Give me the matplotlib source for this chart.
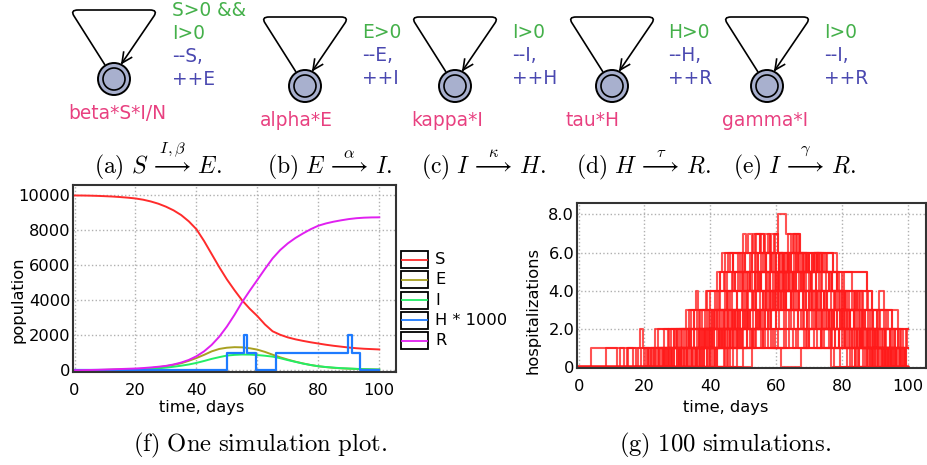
import numpy as np
import matplotlib
matplotlib.use("Agg")
import matplotlib.pyplot as plt
from matplotlib.path import Path
from matplotlib.patches import PathPatch, Circle, Rectangle

plt.rcParams['mathtext.fontset'] = 'cm'
plt.rcParams['font.family'] = 'DejaVu Sans'

# ---- automata labels (top row)
guards = [["S>0 &&", "I>0"], ["E>0"], ["I>0"], ["H>0"], ["I>0"]]
updates = [["--S,", "++E"], ["--E,", "++I"], ["--I,", "++H"], ["--H,", "++R"], ["--I,", "++R"]]
rates = ["beta*S*I/N", "alpha*E", "kappa*I", "tau*H", "gamma*I"]
captions = [r"$\mathrm{(a)}\ S\,\overset{I,\beta}{\longrightarrow}\,E.$",
            r"$\mathrm{(b)}\ E\,\overset{\alpha}{\longrightarrow}\,I.$",
            r"$\mathrm{(c)}\ I\,\overset{\kappa}{\longrightarrow}\,H.$",
            r"$\mathrm{(d)}\ H\,\overset{\tau}{\longrightarrow}\,R.$",
            r"$\mathrm{(e)}\ I\,\overset{\gamma}{\longrightarrow}\,R.$"]

# ---- one simulation
days = [0, 2.5, 5, 7.5, 10, 12.5, 15, 17.5, 20, 22.5, 25, 27.5, 30, 32.5, 35, 37.5, 40, 42.5, 45, 47.5, 50,
        52.5, 55, 57.5, 60, 62.5, 65, 67.5, 70, 72.5, 75, 77.5, 80, 82.5, 85, 87.5, 90, 92.5, 95, 97.5, 100]
S = [10000, 9998, 9990, 9978, 9960, 9940, 9910, 9875, 9830, 9760, 9660, 9530, 9360, 9150, 8880, 8520, 8070, 7400, 6650, 5900, 5200,
     4580, 4000, 3520, 3100, 2620, 2230, 2030, 1880, 1770, 1680, 1600, 1530, 1460, 1400, 1350, 1300, 1260, 1230, 1210, 1190]
E = [0, 5, 10, 15, 20, 30, 40, 50, 60, 85, 120, 170, 230, 310, 400, 540, 700, 880, 1080, 1220, 1290,
     1320, 1310, 1260, 1180, 1050, 890, 740, 610, 490, 390, 300, 230, 180, 140, 110, 90, 75, 60, 50, 40]
I = [0, 2, 5, 10, 15, 20, 25, 30, 40, 60, 80, 110, 150, 200, 260, 330, 420, 530, 650, 750, 840,
     880, 900, 895, 870, 830, 780, 690, 580, 480, 380, 300, 230, 185, 150, 120, 100, 80, 60, 50, 40]
R = [0, 5, 15, 25, 40, 55, 70, 85, 100, 125, 160, 200, 250, 330, 440, 590, 800, 1080, 1450, 1920, 2500,
     3170, 3900, 4550, 5170, 5800, 6400, 6880, 7260, 7570, 7830, 8070, 8270, 8400, 8500, 8580, 8650, 8700, 8730, 8745, 8750]
H_times = [0, 50.2, 55.5, 56.6, 59.5, 66.1, 89.6, 91.1, 93.8, 100]
H_level = [0, 1, 2, 1, 0, 1, 2, 1, 0, 0]

series_names = ["S", "E", "I", "H * 1000", "R"]
series_colors = ["#ff2b2b", "#a8a020", "#22ee66", "#1e7bff", "#e020f0"]

# ---- 100 simulations (hospitalizations), change points (day, level)
hosp_runs = [
    [(3.9, 1), (18.7, 2), (19.5, 1), (23.3, 2), (34.2, 3), (35.7, 4), (36.3, 3), (38.7, 4), (42.0, 5), (43.5, 6), (49.9, 7), (50.9, 6), (53.1, 7), (56.2, 6), (58.5, 7), (60.7, 8), (63.1, 7), (67.3, 6), (78.5, 5), (87.6, 4), (89.0, 3), (97.0, 2)],
    [(20.5, 1), (24.0, 2), (27.5, 1), (31.0, 2), (35.0, 3), (39.0, 4), (43.0, 5), (44.5, 6), (47.0, 5), (50.5, 6), (53.5, 7), (55.0, 6), (57.5, 7), (58.0, 6), (62.0, 5), (64.5, 6), (65.5, 7), (67.0, 6), (70.0, 5), (72.5, 6), (77.4, 5), (79.0, 4), (83.5, 3), (86.0, 2), (91.0, 1), (95.5, 0)],
    [(23.3, 1), (26.0, 2), (29.0, 1), (33.0, 2), (37.5, 3), (41.0, 2), (44.0, 3), (46.5, 4), (49.0, 5), (52.0, 6), (54.5, 5), (56.5, 6), (59.2, 7), (60.4, 6), (63.5, 5), (66.0, 6), (68.0, 5), (71.5, 6), (74.0, 5), (78.5, 4), (80.5, 3), (84.0, 4), (87.6, 3), (95.2, 2), (99.7, 1)],
    [(19.0, 1), (21.5, 0), (24.5, 1), (28.0, 2), (32.0, 1), (36.5, 2), (40.0, 3), (42.5, 4), (45.0, 5), (47.5, 4), (51.0, 5), (54.0, 6), (58.5, 5), (61.0, 6), (62.5, 5), (66.5, 6), (69.5, 5), (74.0, 6), (75.2, 5), (87.6, 4), (89.0, 3), (93.5, 2), (97.5, 1), (99.0, 0)],
    [(25.0, 1), (29.5, 2), (33.5, 3), (36.0, 2), (39.5, 3), (42.0, 4), (44.0, 5), (46.0, 6), (49.0, 5), (52.5, 6), (55.0, 7), (56.2, 6), (60.0, 5), (63.1, 6), (67.0, 5), (70.0, 4), (72.0, 5), (76.0, 4), (80.0, 3), (85.0, 2), (89.5, 1), (93.0, 0)],
    [(27.0, 1), (31.5, 2), (35.0, 1), (38.0, 2), (41.5, 3), (45.0, 4), (48.5, 5), (51.5, 4), (54.0, 5), (57.0, 6), (59.0, 5), (61.5, 6), (63.5, 5), (66.0, 4), (69.0, 5), (72.0, 4), (75.5, 3), (79.0, 4), (81.5, 3), (86.5, 2), (90.5, 3), (94.0, 2), (97.0, 1)],
    [(30.0, 1), (33.5, 2), (37.0, 3), (39.0, 2), (43.0, 3), (46.0, 4), (49.5, 5), (52.0, 4), (55.5, 5), (58.5, 6), (61.0, 5), (64.0, 4), (68.0, 5), (71.0, 4), (74.5, 3), (77.0, 2), (81.0, 3), (84.5, 2), (88.0, 1), (92.0, 0)],
    [(32.0, 1), (35.5, 0), (38.0, 1), (41.0, 2), (44.5, 3), (47.5, 2), (50.0, 3), (53.0, 4), (56.0, 3), (59.0, 4), (62.5, 5), (65.0, 4), (68.5, 3), (72.5, 4), (75.0, 3), (79.5, 2), (83.0, 1), (86.0, 2), (90.0, 1), (96.0, 0)],
    [(21.0, 1), (26.5, 0), (30.5, 1), (36.0, 2), (39.5, 1), (42.5, 2), (46.5, 3), (50.5, 2), (54.5, 3), (58.0, 4), (61.5, 3), (64.5, 4), (67.5, 5), (70.5, 4), (73.5, 3), (77.5, 4), (80.0, 3), (84.0, 2), (87.0, 3), (89.5, 2), (93.5, 1), (97.0, 0)],
    [(34.5, 1), (38.5, 2), (42.0, 3), (45.5, 4), (47.0, 5), (50.0, 4), (53.5, 5), (55.5, 6), (57.0, 5), (60.5, 4), (63.0, 5), (65.5, 6), (68.5, 5), (71.0, 6), (73.0, 5), (76.5, 4), (79.5, 3), (82.5, 2), (85.5, 1), (89.0, 0)],
    [(15.0, 1), (17.5, 0), (22.0, 1), (27.5, 0), (32.5, 1), (37.0, 0), (40.5, 1), (44.0, 2), (48.0, 1), (52.0, 2), (55.0, 3), (58.0, 2), (61.0, 3), (64.5, 2), (69.0, 1), (73.5, 2), (78.0, 1), (83.0, 0), (88.0, 1), (92.5, 0)],
    [(36.0, 1), (40.0, 2), (43.5, 1), (46.0, 2), (49.0, 3), (52.5, 4), (56.5, 3), (59.5, 4), (62.0, 5), (64.0, 6), (65.1, 7), (66.0, 6), (69.0, 5), (71.5, 6), (73.5, 5), (77.0, 4), (81.0, 3), (84.5, 4), (86.5, 3), (90.5, 2), (94.5, 1), (98.0, 0)],
    [(28.5, 1), (31.0, 0), (35.0, 1), (37.5, 2), (40.5, 3), (43.0, 4), (46.5, 5), (48.5, 6), (50.5, 5), (53.5, 6), (56.7, 7), (58.0, 6), (61.0, 5), (63.5, 6), (66.5, 5), (70.5, 4), (74.0, 5), (77.0, 4), (80.5, 3), (83.5, 2), (87.5, 1), (91.5, 2), (95.0, 1), (99.0, 0)],
    [(38.0, 1), (41.5, 0), (44.5, 1), (47.0, 2), (50.5, 3), (54.0, 2), (57.5, 3), (60.5, 4), (63.0, 3), (67.0, 4), (70.0, 3), (74.5, 2), (78.5, 3), (82.0, 2), (86.0, 1), (89.5, 2), (93.0, 1), (96.5, 0)],
    [(24.0, 1), (28.0, 0), (33.0, 1), (36.5, 2), (40.5, 3), (44.5, 4), (48.0, 3), (51.0, 4), (54.5, 5), (57.5, 4), (60.0, 5), (63.5, 4), (66.0, 5), (68.5, 4), (72.0, 3), (75.5, 4), (78.0, 3), (81.5, 2), (85.5, 3), (88.5, 2), (92.0, 1), (95.5, 2), (98.5, 1)],
    [(42.0, 1), (45.5, 2), (48.5, 3), (51.5, 4), (54.5, 5), (57.0, 4), (59.5, 5), (62.5, 6), (64.5, 5), (67.5, 4), (70.5, 5), (73.0, 4), (76.5, 3), (80.0, 2), (83.5, 3), (86.5, 2), (90.5, 1), (94.0, 0)],
    [(26.5, 1), (30.0, 2), (34.0, 1), (37.5, 0), (40.0, 1), (43.0, 2), (46.0, 3), (49.5, 4), (52.0, 5), (55.0, 4), (58.5, 3), (61.5, 4), (64.5, 3), (68.0, 2), (71.5, 3), (75.0, 2), (79.0, 1), (84.5, 2), (88.5, 1), (93.5, 0)],
    [(45.0, 1), (48.0, 2), (51.0, 3), (53.5, 4), (55.5, 5), (58.0, 6), (59.5, 7), (60.4, 6), (63.5, 7), (64.5, 6), (67.5, 5), (70.0, 6), (72.5, 5), (75.5, 6), (77.4, 5), (80.0, 4), (83.0, 3), (86.0, 2), (89.0, 3), (91.5, 2), (96.0, 1), (99.5, 0)],
    [(31.0, 1), (34.0, 2), (37.0, 1), (40.0, 2), (43.5, 3), (47.0, 2), (50.0, 3), (53.0, 2), (56.5, 3), (60.0, 2), (64.0, 3), (67.5, 2), (71.0, 3), (74.0, 2), (78.0, 1), (82.0, 2), (86.5, 1), (90.0, 0), (94.0, 1), (97.5, 0)],
    [(48.0, 1), (51.0, 2), (54.0, 3), (57.0, 4), (60.0, 3), (62.5, 4), (65.5, 5), (68.0, 6), (70.0, 5), (72.5, 6), (74.0, 5), (77.0, 4), (80.5, 5), (83.0, 4), (85.0, 3), (88.0, 2), (91.1, 3), (92.6, 2), (97.0, 1), (99.5, 2)],
    [(22.5, 1), (25.5, 0), (29.0, 1), (32.0, 0), (35.5, 1), (39.0, 2), (42.5, 1), (46.0, 2), (49.0, 1), (53.0, 2), (56.0, 1), (60.5, 2), (65.0, 1), (70.0, 2), (74.5, 1), (79.5, 0), (84.0, 1), (89.0, 0)],
    [(39.5, 1), (42.5, 2), (45.5, 3), (48.0, 4), (50.0, 5), (52.5, 6), (54.0, 7), (55.5, 6), (57.0, 5), (59.5, 6), (62.0, 5), (65.0, 4), (68.5, 5), (71.5, 6), (73.0, 5), (75.0, 4), (78.5, 3), (81.0, 4), (84.5, 3), (87.0, 2), (90.0, 1), (93.0, 2), (96.0, 1), (98.5, 0)],
    [(33.5, 1), (37.5, 2), (41.0, 3), (44.0, 2), (47.5, 3), (51.0, 4), (54.0, 3), (57.0, 4), (60.0, 5), (62.5, 4), (65.5, 3), (69.0, 4), (72.0, 3), (76.0, 2), (80.0, 3), (83.5, 2), (87.0, 1), (91.0, 0), (95.0, 1), (98.0, 0)],
    [(20.0, 1), (23.0, 0), (27.0, 1), (30.5, 0), (34.5, 1), (38.0, 2), (42.0, 3), (45.0, 4), (47.5, 5), (50.5, 4), (53.5, 5), (56.0, 6), (58.5, 5), (62.0, 4), (65.0, 5), (68.0, 4), (71.0, 3), (74.5, 4), (78.0, 3), (82.5, 2), (85.5, 1), (90.5, 2), (94.5, 1), (99.0, 0)],
    [(44.0, 1), (47.0, 2), (50.0, 1), (53.5, 2), (56.5, 3), (60.0, 2), (63.0, 3), (66.5, 2), (70.0, 3), (73.5, 2), (77.0, 3), (80.5, 2), (84.0, 1), (88.0, 2), (92.5, 1), (96.5, 0)],
    [(29.0, 1), (32.5, 2), (36.5, 3), (40.0, 4), (43.0, 5), (45.5, 6), (47.0, 5), (50.0, 6), (51.5, 7), (52.5, 6), (54.5, 5), (58.0, 4), (61.0, 5), (64.0, 4), (67.0, 3), (70.5, 4), (73.5, 3), (77.5, 2), (81.5, 1), (85.0, 0)],
    [(50.0, 1), (53.0, 2), (56.0, 3), (59.0, 4), (61.5, 5), (64.0, 6), (66.2, 7), (67.3, 6), (69.5, 5), (72.0, 6), (74.5, 5), (78.5, 4), (81.0, 3), (84.0, 4), (86.0, 3), (89.5, 2), (93.0, 1), (97.5, 0)],
    [(37.0, 1), (40.5, 2), (44.0, 1), (47.5, 2), (51.0, 3), (55.0, 2), (58.5, 3), (62.0, 4), (65.0, 3), (68.5, 2), (72.0, 3), (76.5, 2), (81.0, 1), (85.5, 2), (89.0, 1), (92.5, 0)],
    [(25.5, 1), (29.0, 2), (32.5, 3), (35.0, 2), (38.5, 3), (41.5, 4), (44.5, 5), (47.0, 6), (49.5, 5), (52.0, 4), (55.5, 5), (59.0, 4), (63.0, 3), (66.5, 4), (70.0, 3), (73.0, 2), (76.0, 3), (80.5, 2), (85.0, 1), (88.5, 0), (92.0, 1), (95.0, 0)],
    [(41.0, 1), (44.5, 2), (48.0, 3), (51.5, 2), (55.0, 3), (58.0, 4), (61.0, 5), (63.5, 6), (66.0, 5), (69.0, 6), (71.0, 5), (73.5, 4), (76.0, 5), (78.5, 4), (82.0, 3), (85.5, 4), (88.0, 3), (91.1, 4), (92.6, 3), (95.2, 2), (98.0, 1)],
    [(18.0, 1), (21.0, 0), (26.0, 1), (31.5, 0), (37.5, 1), (45.5, 0), (52.5, 1), (61.5, 0), (67.5, 1), (76.5, 0), (86.5, 1), (95.5, 0)],
    [(22.0, 1), (27.0, 2), (30.0, 1), (35.0, 2), (39.0, 1), (48.5, 2), (55.5, 1), (63.0, 2), (72.5, 1), (81.5, 0), (87.5, 1), (96.5, 0)],
    [(24.5, 1), (28.5, 0), (34.0, 1), (40.5, 2), (46.5, 1), (51.0, 2), (57.5, 1), (66.0, 2), (71.5, 1), (77.5, 0), (84.5, 1), (93.0, 0), (97.5, 1), (99.5, 0)],
    [(26.0, 1), (31.0, 0), (36.0, 1), (42.0, 0), (47.0, 1), (56.5, 2), (59.5, 1), (69.5, 2), (76.0, 1), (82.5, 0), (90.0, 1), (98.5, 0)],
    [(8.3, 1), (11.7, 0), (12.7, 1), (13.7, 0), (14.7, 1), (16.5, 0), (28.0, 1), (33.5, 2), (38.5, 1), (42.0, 2), (45.5, 3), (48.5, 2), (51.5, 3), (54.0, 4), (57.5, 3), (60.5, 4), (63.0, 3), (66.5, 2), (69.5, 3), (72.5, 2), (76.5, 1), (80.0, 2), (83.0, 1), (87.0, 0), (91.5, 1), (96.0, 0)],
    [(30.5, 1), (33.0, 0), (36.5, 1), (39.5, 2), (42.5, 3), (45.0, 2), (47.5, 3), (50.0, 4), (52.5, 5), (55.0, 4), (57.0, 5), (60.0, 6), (62.0, 5), (64.5, 4), (67.0, 5), (70.5, 4), (73.0, 3), (76.0, 2), (79.5, 3), (82.5, 2), (86.0, 1), (89.5, 0), (93.5, 1), (96.5, 0)],
    [(35.5, 1), (39.0, 0), (41.5, 1), (45.0, 2), (49.5, 1), (52.5, 2), (55.5, 3), (58.5, 2), (62.5, 3), (65.5, 2), (69.5, 3), (72.0, 2), (76.5, 1), (79.0, 2), (82.5, 1), (87.5, 0), (90.5, 1), (94.5, 0)],
    [(27.5, 1), (30.5, 2), (33.5, 1), (38.5, 2), (41.0, 1), (44.5, 2), (47.0, 3), (50.5, 4), (53.0, 3), (56.0, 4), (59.5, 3), (62.5, 4), (66.0, 3), (69.0, 4), (72.5, 3), (75.5, 2), (78.5, 3), (81.5, 2), (84.5, 1), (88.5, 2), (91.0, 1), (95.0, 0)],
    [(40.0, 1), (43.0, 2), (46.5, 3), (49.0, 2), (52.0, 3), (55.0, 4), (58.0, 5), (60.5, 4), (63.0, 5), (65.5, 4), (68.0, 3), (71.5, 4), (74.5, 3), (77.5, 2), (81.0, 1), (84.5, 2), (87.5, 1), (91.0, 0)],
    [(33.0, 1), (37.0, 2), (40.5, 1), (43.5, 2), (46.0, 1), (49.5, 2), (52.5, 1), (56.0, 2), (59.0, 1), (62.5, 2), (66.5, 1), (70.0, 2), (73.5, 1), (77.0, 2), (80.5, 1), (84.0, 0), (88.5, 1), (93.0, 0)],
    [(46.0, 1), (49.0, 2), (52.0, 3), (54.5, 2), (57.5, 3), (61.0, 4), (64.5, 3), (68.0, 4), (71.0, 3), (74.0, 2), (77.5, 3), (80.0, 2), (83.5, 1), (86.5, 2), (90.0, 1), (94.0, 0)],
    [(23.5, 1), (26.0, 0), (30.0, 1), (34.5, 0), (39.0, 1), (43.5, 2), (48.5, 1), (54.0, 2), (58.5, 1), (64.0, 2), (68.5, 1), (74.0, 2), (79.0, 1), (85.0, 0), (89.5, 1), (94.5, 0)],
]

fig = plt.figure(figsize=(9.27, 4.65), dpi=100)

# overlay in pixel units for the automata, captions and legend
ov = fig.add_axes([0, 0, 1, 1])
ov.set_xlim(0, 927)
ov.set_ylim(465, 0)
ov.axis('off')

node_x = [114, 305, 455, 612, 767]
node_y = [79, 86, 86, 86, 86]
text_x = [172, 362, 512, 668, 824]
text_y0 = [10, 32, 32, 32, 32]
rate_x = [117, 296, 447, 593, 765]
rate_y = [113, 120, 120, 120, 120]
cap_x = [158, 330, 483, 643, 795]

green, blue, pink = "#44b04a", "#4a48b0", "#e84080"
for k in range(5):
    cx, cy = node_x[k], node_y[k]
    verts = [(cx - 9, cy - 14), (cx - 40, cy - 63), (cx - 44, cy - 69), (cx - 36, cy - 69),
             (cx + 36, cy - 69), (cx + 44, cy - 69), (cx + 40, cy - 63), (cx + 8, cy - 16)]
    codes = [Path.MOVETO, Path.LINETO, Path.CURVE3, Path.CURVE3,
             Path.LINETO, Path.CURVE3, Path.CURVE3, Path.LINETO]
    ov.add_patch(PathPatch(Path(verts, codes), fill=False, lw=1.2, ec='black'))
    # open arrow head
    d = np.array([32.0, -47.0]) / np.hypot(32, 47)
    for ang in (0.45, -0.45):
        rot = np.array([[np.cos(ang), -np.sin(ang)], [np.sin(ang), np.cos(ang)]])
        p = np.array([cx + 8, cy - 16]) + 11 * rot.dot(d)
        ov.plot([cx + 8, p[0]], [cy - 16, p[1]], color='black', lw=1.2)
    ov.add_patch(Circle((cx, cy), 16, fc="#a8b0ce", ec='black', lw=1.4))
    ov.add_patch(Circle((cx, cy), 11, fc='none', ec='black', lw=1.2))
    lines = [(g, green) for g in guards[k]] + [(u, blue) for u in updates[k]]
    for j, (s, c) in enumerate(lines):
        ov.text(text_x[k], text_y0[k] + 23.3 * j, s, color=c, fontsize=13.4, va='center', ha='left')
    ov.text(rate_x[k], rate_y[k], rates[k], color=pink, fontsize=13.4, va='center', ha='center')
    ov.text(cap_x[k], 173, captions[k], fontsize=17, ha='center', va='baseline')

ov.text(260, 451, r"$\mathrm{(f)\ One\ simulation\ plot.}$", fontsize=17.8, ha='center', va='baseline')
ov.text(725, 451, r"$\mathrm{(g)\ 100\ simulations.}$", fontsize=17.8, ha='center', va='baseline')

# legend for panel (f)
for j, (name, c) in enumerate(zip(series_names, series_colors)):
    yc = 259.5 + 20.3 * j
    ov.add_patch(Rectangle((401, yc - 8.5), 27, 17, fc='white', ec='black', lw=1.3))
    ov.plot([402, 427], [yc, yc], color=c, lw=1.3)
    ov.text(435, yc, name, fontsize=11.7, va='center', ha='left')


def style(ax):
    for sp in ax.spines.values():
        sp.set_color('#333333')
        sp.set_linewidth(1.5)
    ax.grid(True, ls=':', color='#b0b0b0', lw=1)
    ax.tick_params(length=0, labelsize=11.7, pad=2)
    ax.tick_params(axis='x', pad=8)
    ax.set_xlim(-0.5, 105.5)
    ax.set_xticks([0, 20, 40, 60, 80, 100])


# panel (f)
ax1 = fig.add_axes([73 / 927, 1 - 372 / 465, 323 / 927, 187 / 465])
style(ax1)
ax1.plot(days, S, color=series_colors[0], lw=1.4)
ax1.plot(days, E, color=series_colors[1], lw=1.4)
ax1.plot(days, I, color=series_colors[2], lw=1.4)
ax1.step(H_times, np.array(H_level) * 1000, where='post', color=series_colors[3], lw=1.6)
ax1.plot(days, R, color=series_colors[4], lw=1.4)
ax1.set_ylim(-100, 10600)
ax1.set_yticks([0, 2000, 4000, 6000, 8000, 10000])
ax1.set_xlabel("time, days", fontsize=11.7)
ax1.set_ylabel("population", fontsize=11.7)
ax1.xaxis.set_label_coords(0.399, -0.15)
ax1.yaxis.set_label_coords(-0.146, 0.385)

# panel (g)
ax2 = fig.add_axes([577 / 927, 1 - 368 / 465, 349 / 927, 165 / 465])
style(ax2)
for run in hosp_runs:
    t = [0] + [p[0] for p in run] + [100]
    h = [0] + [p[1] for p in run] + [run[-1][1]]
    ax2.step(t, h, where='post', color='#ff1a1a', alpha=0.75, lw=1.5)
ax2.set_ylim(-0.05, 8.6)
ax2.set_yticks([0, 2, 4, 6, 8])
ax2.set_yticklabels(["0", "2.0", "4.0", "6.0", "8.0"])
ax2.set_xlabel("time, days", fontsize=11.7)
ax2.set_ylabel("hospitalizations", fontsize=11.7)
ax2.xaxis.set_label_coords(0.427, -0.195)
ax2.yaxis.set_label_coords(-0.106, 0.351)

fig.savefig("out.png", dpi=100)
